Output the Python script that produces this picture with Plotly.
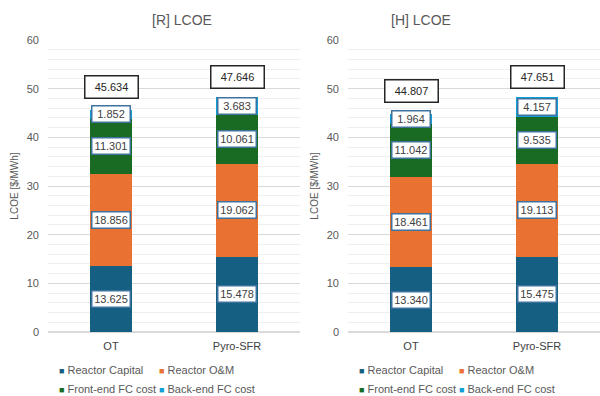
import plotly.graph_objects as go
from plotly.subplots import make_subplots

categories = ["OT", "Pyro-SFR"]
series_names = ["Reactor Capital", "Reactor O&M", "Front-end FC cost", "Back-end FC cost"]
series_colors = ["#156082", "#E97132", "#196B24", "#0F9ED5"]

# [R] case
r_capital = [13.625, 15.478]
r_om = [18.856, 19.062]
r_front = [11.301, 10.061]
r_back = [1.852, 3.683]
r_total = [45.634, 47.646]

# [H] case
h_capital = [13.340, 15.475]
h_om = [18.461, 19.113]
h_front = [11.042, 9.535]
h_back = [1.964, 4.157]
h_total = [44.807, 47.651]

panels = [
    ("[R] LCOE", [r_capital, r_om, r_front, r_back], r_total),
    ("[H] LCOE", [h_capital, h_om, h_front, h_back], h_total),
]

GREY = "#595959"
FONT = "Liberation Sans, Arial, sans-serif"

fig = make_subplots(rows=1, cols=2, horizontal_spacing=0.08)
fig.update_layout(
    width=600, height=396,
    margin=dict(l=0, r=0, t=40, b=64, autoexpand=False),
    barmode="stack", bargap=0.67,
    plot_bgcolor="white", paper_bgcolor="white",
    font=dict(family=FONT, size=11, color=GREY),
    showlegend=False,
)
fig.update_xaxes(domain=[0.08, 0.5], row=1, col=1)
fig.update_xaxes(domain=[0.58, 1.0], row=1, col=2)

# legend key layout: two rows of two entries under each panel
key_cols = [57 / 600, 157 / 600]
key_rows = [-0.130, -0.194]

for p, (title, stacks, totals) in enumerate(panels):
    col = p + 1
    xref = "x" if p == 0 else "x2"
    yref = "y" if p == 0 else "y2"
    for i, (name, vals) in enumerate(zip(series_names, stacks)):
        fig.add_trace(go.Bar(
            x=categories, y=vals, name=name,
            marker=dict(color=series_colors[i], line=dict(width=0)),
            hoverinfo="y+name",
        ), row=1, col=col)
        # key entry: coloured square followed by the series name
        fig.add_annotation(
            x=0.5 * p + key_cols[i % 2], y=key_rows[i // 2],
            xref="paper", yref="paper", xanchor="left", yanchor="middle",
            text=f"<span style='color:{series_colors[i]};font-size:9px'>■</span> {name}",
            showarrow=False, font=dict(size=11, color=GREY),
        )

    # segment value labels at each segment's midpoint
    for j, cat in enumerate(categories):
        base = 0.0
        for vals in stacks:
            v = vals[j]
            fig.add_annotation(
                x=cat, y=base + v / 2, xref=xref, yref=yref,
                text=f"{v:.3f}", showarrow=False,
                font=dict(size=11, color="#404040"),
                width=35, height=13,
                bgcolor="white", bordercolor="#3E73A0", borderwidth=1.5, borderpad=1,
            )
            base += v
        # total label above the stack
        fig.add_annotation(
            x=cat, y=totals[j], xref=xref, yref=yref, yshift=23,
            text=f"{totals[j]:.3f}", showarrow=False,
            font=dict(size=11, color="#262626"),
            width=48, height=17,
            bgcolor="white", bordercolor="#262626", borderwidth=1.5, borderpad=2,
        )

    fig.add_annotation(
        x=0.25 + 0.505 * p, y=1.0, xref="paper", yref="paper", yshift=20,
        text=title, showarrow=False, font=dict(size=14, color=GREY),
        yanchor="middle",
    )

fig.update_yaxes(
    range=[0, 60], dtick=10, showgrid=True, gridcolor="#D9D9D9", gridwidth=1,
    minor=dict(dtick=2, showgrid=True, gridcolor="#EFEFEF", gridwidth=1),
    zeroline=True, zerolinecolor="#D9D9D9", zerolinewidth=1.5,
    showline=False, ticks="", ticklabelstandoff=8,
    tickfont=dict(size=11, color=GREY),
    title=dict(text="LCOE [$/MWh]", font=dict(size=10, color=GREY), standoff=6),
)
fig.update_xaxes(
    showline=False, ticks="", tickfont=dict(size=11, color="#404040"),
    ticklabelstandoff=6,
)

fig.write_html("out.html")
